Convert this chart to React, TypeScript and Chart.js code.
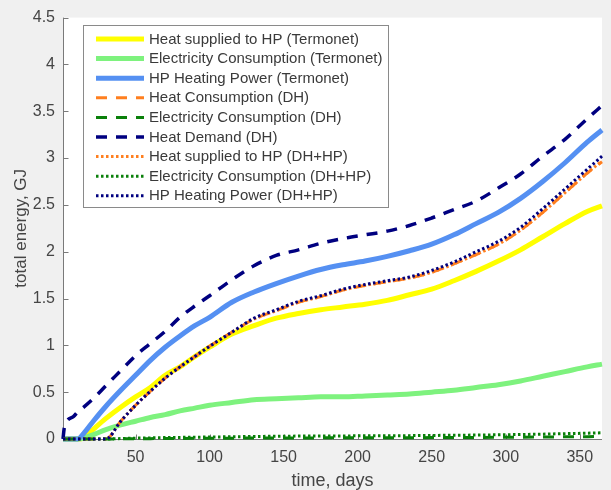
import React, { useEffect, useRef } from "react";
import { Chart, registerables } from "chart.js";

Chart.register(...registerables);

// Sample days (x axis, days of the year)
const days = [1, 2, 8, 11, 15, 22, 30, 40, 50, 60, 70, 80, 90, 100, 115, 130, 145, 160, 175, 190, 205, 220, 235, 250, 265, 280, 295, 310, 325, 340, 355, 365];

// Cumulative energy, GJ
const heatSuppliedTermonet = [0, 0, 0, 0, 0.01, 0.11, 0.22, 0.34, 0.45, 0.55, 0.68, 0.77, 0.88, 0.98, 1.12, 1.21, 1.29, 1.34, 1.38, 1.41, 1.44, 1.48, 1.54, 1.6, 1.69, 1.79, 1.9, 2.02, 2.16, 2.3, 2.43, 2.49];
const elecTermonet = [0, 0, 0, 0, 0.01, 0.05, 0.1, 0.15, 0.19, 0.23, 0.26, 0.3, 0.33, 0.36, 0.39, 0.42, 0.43, 0.44, 0.45, 0.45, 0.46, 0.47, 0.48, 0.5, 0.52, 0.55, 0.58, 0.62, 0.67, 0.72, 0.77, 0.8];
const hpPowerTermonet = [0, 0, 0, 0, 0.06, 0.2, 0.35, 0.52, 0.68, 0.84, 0.98, 1.1, 1.21, 1.3, 1.46, 1.57, 1.66, 1.74, 1.81, 1.86, 1.9, 1.95, 2.01, 2.08, 2.18, 2.3, 2.42, 2.57, 2.75, 2.95, 3.17, 3.3];
const heatConsDH = [0, 0, 0, 0, 0, 0, 0, 0.19, 0.36, 0.51, 0.65, 0.77, 0.88, 0.99, 1.14, 1.28, 1.37, 1.46, 1.52, 1.59, 1.64, 1.68, 1.72, 1.78, 1.87, 1.97, 2.08, 2.23, 2.42, 2.63, 2.84, 2.96];
const elecDH = [0, 0, 0, 0, 0, 0, 0, 0.002, 0.003, 0.004, 0.005, 0.006, 0.007, 0.008, 0.009, 0.01, 0.011, 0.012, 0.012, 0.013, 0.013, 0.014, 0.014, 0.015, 0.016, 0.017, 0.018, 0.019, 0.021, 0.023, 0.025, 0.027];
const heatDemandDH = [0, 0.13, 0.24, 0.29, 0.34, 0.44, 0.57, 0.73, 0.89, 1.02, 1.15, 1.3, 1.42, 1.53, 1.7, 1.85, 1.96, 2.02, 2.09, 2.14, 2.18, 2.22, 2.28, 2.36, 2.45, 2.54, 2.68, 2.83, 3.02, 3.2, 3.42, 3.56];
const heatSuppliedDHHP = [0, 0, 0, 0, 0, 0, 0, 0.19, 0.36, 0.51, 0.65, 0.77, 0.88, 0.99, 1.14, 1.28, 1.37, 1.46, 1.52, 1.59, 1.64, 1.68, 1.72, 1.78, 1.87, 1.97, 2.08, 2.23, 2.42, 2.63, 2.84, 2.97];
const elecDHHP = [0, 0, 0, 0, 0, 0, 0, 0.005, 0.009, 0.012, 0.015, 0.017, 0.019, 0.021, 0.024, 0.027, 0.029, 0.031, 0.032, 0.033, 0.034, 0.035, 0.036, 0.038, 0.04, 0.042, 0.045, 0.048, 0.052, 0.057, 0.062, 0.066];
const hpPowerDHHP = [0, 0, 0, 0, 0, 0, 0, 0.19, 0.36, 0.51, 0.65, 0.77, 0.88, 0.99, 1.14, 1.29, 1.38, 1.47, 1.53, 1.6, 1.65, 1.69, 1.73, 1.8, 1.89, 2.0, 2.11, 2.26, 2.46, 2.67, 2.88, 3.02];

const xTicks = [50, 100, 150, 200, 250, 300, 350];
const yTicks = [0, 0.5, 1, 1.5, 2, 2.5, 3, 3.5, 4, 4.5];

const FONT = '"Liberation Sans", Arial, Helvetica, sans-serif';
const TEXT = "#454545";
const AXIS = "#7a7a7a";

const DOTTED = [2.5, 2.5];
const DASHED = [11, 9];

const seriesDefs = [
  { label: "Heat supplied to HP (Termonet)", values: heatSuppliedTermonet, color: "#ffff00", width: 5, dash: [] as number[] },
  { label: "Electricity Consumption (Termonet)", values: elecTermonet, color: "#7ef27e", width: 5, dash: [] as number[] },
  { label: "HP Heating Power (Termonet)", values: hpPowerTermonet, color: "#5590f2", width: 5, dash: [] as number[] },
  { label: "Heat Consumption (DH)", values: heatConsDH, color: "#ff7f1f", width: 3, dash: DASHED },
  { label: "Electricity Consumption (DH)", values: elecDH, color: "#0a800a", width: 3, dash: DASHED },
  { label: "Heat Demand (DH)", values: heatDemandDH, color: "#000080", width: 3.5, dash: DASHED },
  { label: "Heat supplied to HP (DH+HP)", values: heatSuppliedDHHP, color: "#ff7f1f", width: 3, dash: DOTTED },
  { label: "Electricity Consumption (DH+HP)", values: elecDHHP, color: "#0a800a", width: 3, dash: DOTTED },
  { label: "HP Heating Power (DH+HP)", values: hpPowerDHHP, color: "#000080", width: 3, dash: DOTTED },
];

// Grey figure background with a white axes area
const backdrop = {
  id: "backdrop",
  beforeDraw(chart: any) {
    const { ctx, chartArea, width, height } = chart;
    ctx.save();
    ctx.fillStyle = "#f0f0f0";
    ctx.fillRect(0, 0, width, height);
    ctx.fillStyle = "#ffffff";
    ctx.fillRect(chartArea.left, chartArea.top, chartArea.right - chartArea.left, chartArea.bottom - chartArea.top);
    ctx.restore();
  },
};

// Left and bottom axis lines with inward tick marks
const axisLines = {
  id: "axisLines",
  beforeDatasetsDraw(chart: any) {
    const { ctx, chartArea, scales } = chart;
    const left = Math.round(chartArea.left) + 0.5;
    const bottom = Math.round(chartArea.bottom) + 0.5;
    ctx.save();
    ctx.strokeStyle = AXIS;
    ctx.lineWidth = 1;
    ctx.beginPath();
    ctx.moveTo(left, chartArea.top);
    ctx.lineTo(left, bottom);
    ctx.lineTo(chartArea.right, bottom);
    yTicks.forEach((v) => {
      const y = Math.round(scales.y.getPixelForValue(v)) + 0.5;
      ctx.moveTo(left, y);
      ctx.lineTo(left + 5, y);
    });
    xTicks.forEach((v) => {
      const x = Math.round(scales.x.getPixelForValue(v)) + 0.5;
      ctx.moveTo(x, bottom);
      ctx.lineTo(x, bottom - 5);
    });
    ctx.stroke();
    ctx.restore();
  },
};

// Boxed legend in the upper-left corner of the axes
const legendBox = {
  id: "legendBox",
  afterDatasetsDraw(chart: any) {
    const { ctx } = chart;
    const x0 = 83.5;
    const y0 = 25.5;
    const w = 305;
    const h = 182;
    ctx.save();
    ctx.fillStyle = "#ffffff";
    ctx.fillRect(x0, y0, w, h);
    ctx.strokeStyle = "#8a8a8a";
    ctx.lineWidth = 1;
    ctx.strokeRect(x0, y0, w, h);
    ctx.font = `15px ${FONT}`;
    ctx.textBaseline = "middle";
    ctx.textAlign = "left";
    seriesDefs.forEach((s, i) => {
      const y = 39 + i * 19.6;
      ctx.beginPath();
      ctx.setLineDash(s.dash);
      ctx.lineCap = "butt";
      ctx.lineWidth = s.width;
      ctx.strokeStyle = s.color;
      ctx.moveTo(96, y);
      ctx.lineTo(144, y);
      ctx.stroke();
      ctx.setLineDash([]);
      ctx.fillStyle = "#3a3a3a";
      ctx.fillText(s.label, 149, y + 0.5);
    });
    ctx.restore();
  },
};

export default function App() {
  const canvasRef = useRef<HTMLCanvasElement | null>(null);

  useEffect(() => {
    const canvas = canvasRef.current;
    if (!canvas) return;
    const n = seriesDefs.length;
    const chart = new Chart(canvas, {
      type: "line",
      data: {
        datasets: seriesDefs.map((s, i) => ({
          label: s.label,
          data: days.map((d, k) => ({ x: d, y: s.values[k] })),
          borderColor: s.color,
          backgroundColor: s.color,
          borderWidth: s.width,
          borderDash: s.dash,
          borderCapStyle: "butt" as const,
          borderJoinStyle: "round" as const,
          pointRadius: 0,
          cubicInterpolationMode: "monotone" as const,
          fill: false,
          clip: false as any,
          order: n - i,
        })),
      },
      options: {
        responsive: false,
        animation: false,
        devicePixelRatio: 1,
        layout: { padding: { top: 13, right: 9, left: 0, bottom: 0 } },
        plugins: {
          legend: { display: false },
          tooltip: { enabled: false },
        },
        scales: {
          x: {
            type: "linear",
            min: 1,
            max: 365,
            grid: { display: false, drawTicks: false },
            border: { display: false },
            afterBuildTicks: (scale: any) => {
              scale.ticks = xTicks.map((v) => ({ value: v }));
            },
            afterFit: (scale: any) => {
              scale.height = 51;
            },
            ticks: {
              color: TEXT,
              font: { family: FONT, size: 16 },
              padding: 9,
              maxRotation: 0,
              callback: (v: any) => String(v),
            },
            title: {
              display: true,
              text: "time, days",
              color: TEXT,
              font: { family: FONT, size: 18, lineHeight: 1 },
              padding: { top: 0, bottom: 0 },
            },
          },
          y: {
            type: "linear",
            min: 0,
            max: 4.5,
            grid: { display: false, drawTicks: false },
            border: { display: false },
            afterBuildTicks: (scale: any) => {
              scale.ticks = yTicks.map((v) => ({ value: v }));
            },
            afterFit: (scale: any) => {
              scale.width = 63;
            },
            ticks: {
              color: TEXT,
              font: { family: FONT, size: 16 },
              padding: 8,
              callback: (v: any) => String(v),
            },
            title: {
              display: true,
              text: "total energy, GJ",
              color: TEXT,
              font: { family: FONT, size: 17, lineHeight: 1 },
              padding: { top: 13, bottom: 0 },
            },
          },
        },
      },
      plugins: [backdrop, axisLines, legendBox],
    });
    return () => chart.destroy();
  }, []);

  return (
    <div style={{ position: "absolute", left: 0, top: 0, width: 611, height: 490, background: "#f0f0f0" }}>
      <canvas ref={canvasRef} width={611} height={490} style={{ display: "block" }} />
    </div>
  );
}
